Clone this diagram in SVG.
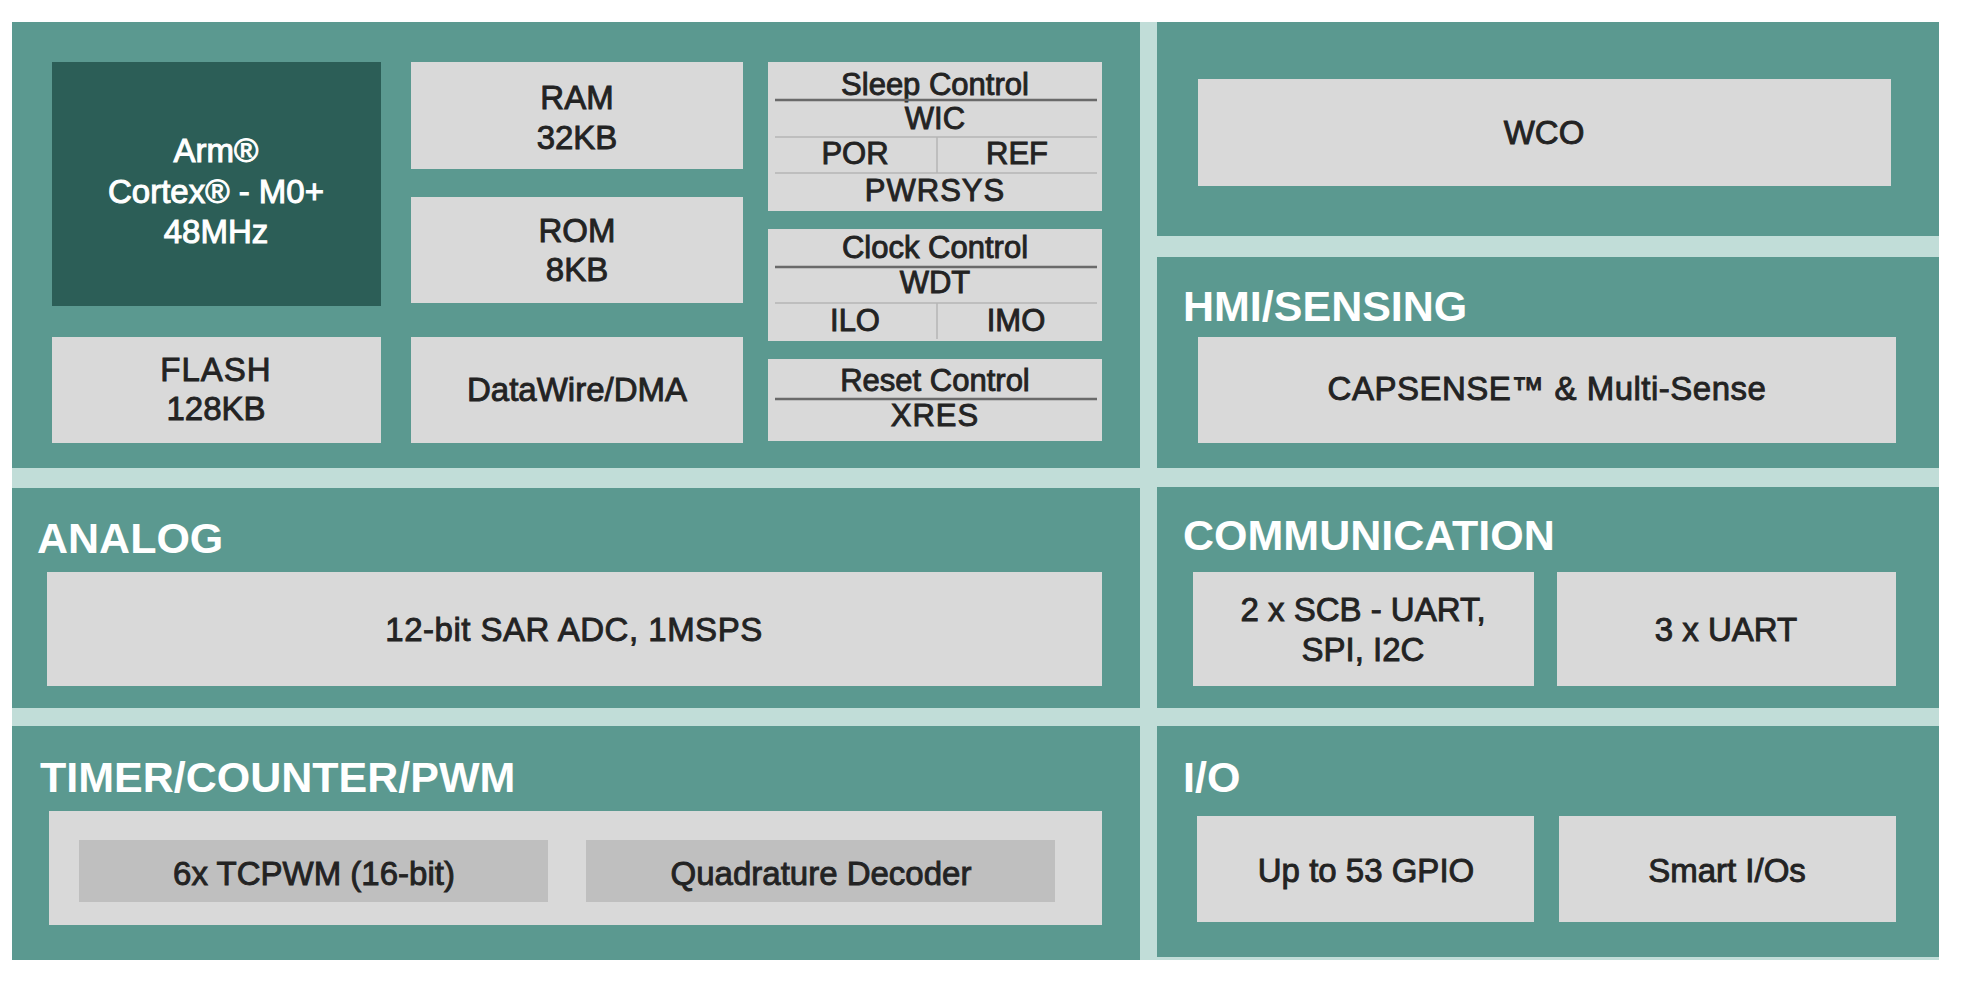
<svg xmlns="http://www.w3.org/2000/svg" width="1966" height="984" viewBox="0 0 1966 984">
<style>
.panel{fill:#5b9990}
.box{fill:#d9d9d9}
.dark{fill:#2c5e57}
.inner{fill:#bfbfbf}
.t{font-family:"Liberation Sans",Arial,sans-serif;font-size:33px;fill:#232323;stroke:#232323;stroke-width:0.9;text-anchor:middle}
.s{font-family:"Liberation Sans",Arial,sans-serif;font-size:31px;fill:#232323;stroke:#232323;stroke-width:0.9;text-anchor:middle}
.w{font-family:"Liberation Sans",Arial,sans-serif;font-size:33px;fill:#ffffff;stroke:#ffffff;stroke-width:1;text-anchor:middle}
.h{font-family:"Liberation Sans",Arial,sans-serif;font-size:43px;font-weight:bold;fill:#ffffff}
.hl{stroke:#6a6a6a;stroke-width:2.5}
.tl{stroke:#b4b4b4;stroke-width:1.5}
</style>
<rect width="1966" height="984" fill="#ffffff"/>
<rect x="12" y="22" width="1927" height="938" fill="#c1ddd8"/>
<g id="panels">
<rect class="panel" x="12" y="22" width="1128" height="446"/>
<rect class="panel" x="1157" y="22" width="782" height="214"/>
<rect class="panel" x="1157" y="257" width="782" height="211"/>
<rect class="panel" x="12" y="488" width="1128" height="220"/>
<rect class="panel" x="1157" y="487" width="782" height="221"/>
<rect class="panel" x="12" y="726" width="1128" height="234"/>
<rect class="panel" x="1157" y="726" width="782" height="231"/>
</g>
<g id="cpu">
<rect class="dark" x="52" y="62" width="329" height="244"/>
<text class="w" x="216" y="162">Arm®</text>
<text class="w" x="216" y="203">Cortex® - M0+</text>
<text class="w" x="216" y="243">48MHz</text>
</g>
<g id="flash">
<rect class="box" x="52" y="337" width="329" height="106"/>
<text class="t" x="216" y="381" letter-spacing="1">FLASH</text>
<text class="t" x="216" y="420">128KB</text>
</g>
<g id="ram">
<rect class="box" x="411" y="62" width="332" height="107"/>
<text class="t" x="577" y="109">RAM</text>
<text class="t" x="577" y="149">32KB</text>
</g>
<g id="rom">
<rect class="box" x="411" y="197" width="332" height="106"/>
<text class="t" x="577" y="242">ROM</text>
<text class="t" x="577" y="281">8KB</text>
</g>
<g id="dma">
<rect class="box" x="411" y="337" width="332" height="106"/>
<text class="t" x="577" y="401">DataWire/DMA</text>
</g>
<g id="sleep">
<rect class="box" x="768" y="62" width="334" height="149"/>
<text class="s" x="935" y="95">Sleep Control</text>
<line class="hl" x1="775" y1="100" x2="1097" y2="100"/>
<text class="s" x="935" y="129">WIC</text>
<line class="tl" x1="775" y1="137" x2="1097" y2="137"/>
<text class="s" x="855" y="164">POR</text>
<text class="s" x="1017" y="164">REF</text>
<line class="tl" x1="937" y1="137" x2="937" y2="173"/>
<line class="tl" x1="775" y1="173" x2="1097" y2="173"/>
<text class="s" x="935" y="201" letter-spacing="1">PWRSYS</text>
</g>
<g id="clock">
<rect class="box" x="768" y="229" width="334" height="112"/>
<text class="s" x="935" y="258">Clock Control</text>
<line class="hl" x1="775" y1="267" x2="1097" y2="267"/>
<text class="s" x="935" y="293">WDT</text>
<line class="tl" x1="775" y1="303" x2="1097" y2="303"/>
<text class="s" x="855" y="331">ILO</text>
<text class="s" x="1016" y="331">IMO</text>
<line class="tl" x1="937" y1="303" x2="937" y2="339"/>
</g>
<g id="reset">
<rect class="box" x="768" y="359" width="334" height="82"/>
<text class="s" x="935" y="391">Reset Control</text>
<line class="hl" x1="775" y1="399" x2="1097" y2="399"/>
<text class="s" x="935" y="426" letter-spacing="1">XRES</text>
</g>
<g id="wco">
<rect class="box" x="1198" y="79" width="693" height="107"/>
<text class="t" x="1544" y="144">WCO</text>
</g>
<g id="hmi">
<text class="h" x="1183" y="321">HMI/SENSING</text>
<rect class="box" x="1198" y="337" width="698" height="106"/>
<text class="t" x="1547" y="400" letter-spacing="0.5">CAPSENSE™ &amp; Multi-Sense</text>
</g>
<g id="analog">
<text class="h" x="37" y="553">ANALOG</text>
<rect class="box" x="47" y="572" width="1055" height="114"/>
<text class="t" x="574" y="641" letter-spacing="0.5">12-bit SAR ADC, 1MSPS</text>
</g>
<g id="communication">
<text class="h" x="1183" y="550">COMMUNICATION</text>
<rect class="box" x="1193" y="572" width="341" height="114"/>
<text class="t" x="1363" y="621">2 x SCB - UART,</text>
<text class="t" x="1363" y="661">SPI, I2C</text>
<rect class="box" x="1557" y="572" width="339" height="114"/>
<text class="t" x="1726" y="641">3 x UART</text>
</g>
<g id="timer">
<text class="h" x="40" y="792">TIMER/COUNTER/PWM</text>
<rect class="box" x="49" y="811" width="1053" height="114"/>
<rect class="inner" x="79" y="840" width="469" height="62"/>
<text class="t" x="314" y="885">6x TCPWM (16-bit)</text>
<rect class="inner" x="586" y="840" width="469" height="62"/>
<text class="t" x="821" y="885">Quadrature Decoder</text>
</g>
<g id="io">
<text class="h" x="1183" y="792">I/O</text>
<rect class="box" x="1197" y="816" width="337" height="106"/>
<text class="t" x="1366" y="882">Up to 53 GPIO</text>
<rect class="box" x="1559" y="816" width="337" height="106"/>
<text class="t" x="1727" y="882">Smart I/Os</text>
</g>
<g id="connectors"/>
</svg>
